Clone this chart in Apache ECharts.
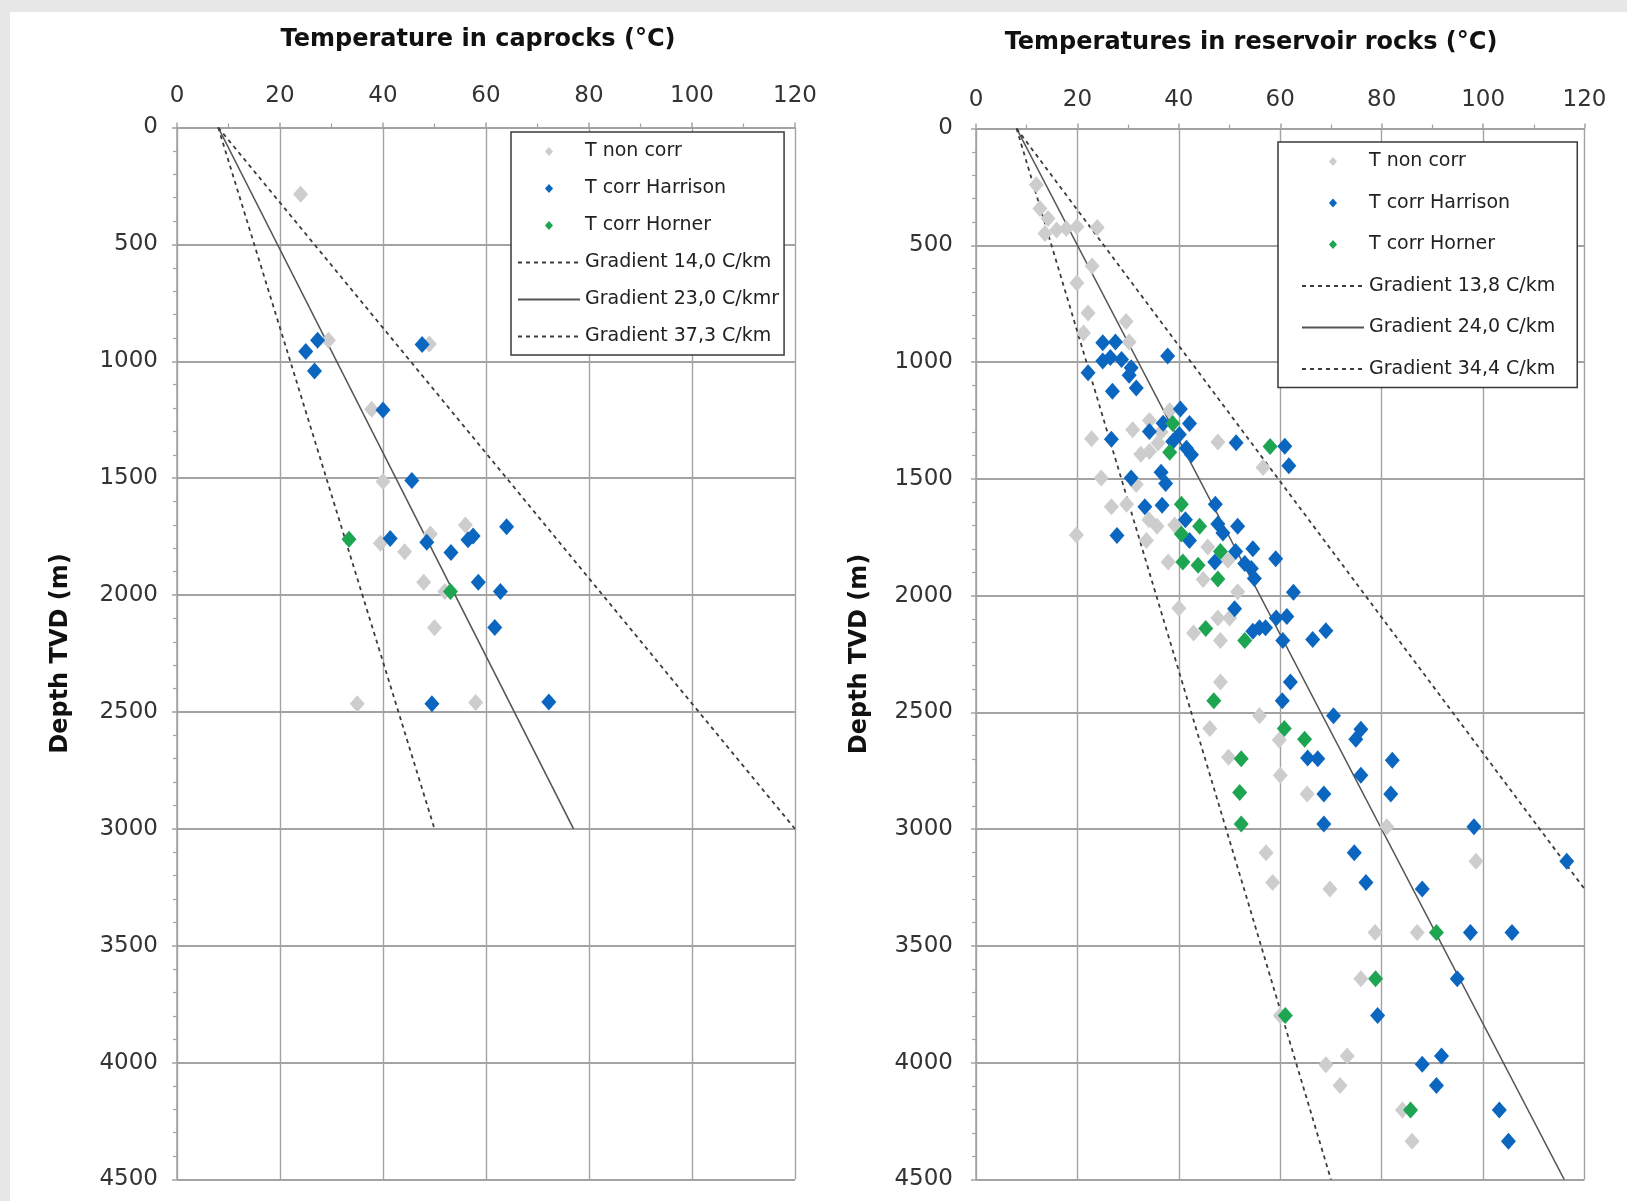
<!DOCTYPE html>
<html>
<head>
<meta charset="utf-8">
<title>Temperatures in caprocks and reservoir rocks</title>
<script src="https://cdn.jsdelivr.net/npm/echarts@6.0.0/dist/echarts.min.js"></script>
<style>
html, body { margin: 0; padding: 0; background: #e7e7e7; }
#panel { position: absolute; left: 10px; top: 12px; width: 1617px; height: 1189px; background: #fff; }
#chart { position: absolute; left: 0; top: 0; width: 1627px; height: 1201px; }
</style>
</head>
<body>
<div id="panel"></div>
<div id="chart"></div>
<script>
// axis ticks
var tempTicks = [0, 20, 40, 60, 80, 100, 120];
var depthTicks = [0, 500, 1000, 1500, 2000, 2500, 3000, 3500, 4000, 4500];

// caprocks: [temperature, depth]
var capNonCorr = [[24, 285], [29.4, 910], [49, 926], [37.8, 1205], [40, 1514], [56, 1700], [49.2, 1739],
	[39.5, 1778], [44.2, 1815], [47.9, 1945], [52, 1985], [50, 2140], [35, 2465], [58, 2460]];
var capHarrison = [[25, 958], [27.3, 910], [26.7, 1042], [47.6, 928], [40, 1208], [45.6, 1510], [41.4, 1758],
	[48.5, 1774], [53.2, 1818], [56.5, 1763], [57.5, 1747], [64, 1708], [58.5, 1945], [62.8, 1985],
	[61.7, 2139], [49.5, 2465], [72.2, 2457]];
var capHorner = [[33.4, 1761], [53.1, 1985]];
var capGrad14 = [[8, 0], [50, 3000]];
var capGrad23 = [[8, 0], [77, 3000]];
var capGrad37 = [[8, 0], [120, 3000]];

// reservoir rocks: [temperature, depth]
var resNonCorr = [[11.9, 241], [12.6, 342], [14.2, 385], [13.6, 450], [15.9, 435], [17.8, 428], [19.9, 421],
	[23.9, 424], [22.9, 589], [19.9, 661], [22.1, 790], [21.2, 876], [29.6, 826], [30.2, 914],
	[22.8, 1328], [30.9, 1290], [34.2, 1250], [47.7, 1342], [38.2, 1208], [35.9, 1347], [34.2, 1383],
	[32.5, 1395], [36.5, 1300], [56.6, 1451], [24.7, 1496], [31.6, 1524], [26.7, 1619], [29.7, 1609],
	[34.1, 1675], [35.7, 1703], [33.6, 1764], [19.8, 1740], [39.2, 1698], [45.7, 1792], [37.9, 1856],
	[49.7, 1849], [44.8, 1931], [51.6, 1983], [40, 2054], [47.7, 2096], [50, 2096], [42.9, 2160],
	[48.2, 2192], [48.2, 2370], [55.9, 2514], [46.1, 2569], [59.8, 2618], [49.8, 2692], [60, 2769],
	[65.3, 2849], [81, 2990], [57.2, 3101], [98.6, 3137], [58.5, 3228], [69.8, 3256], [78.7, 3442],
	[87, 3442], [75.9, 3640], [60, 3798], [69, 4009], [73.2, 3971], [71.8, 4098], [84.1, 4202], [86, 4336]];
var resHarrison = [[25, 917], [27.5, 914], [26.5, 981], [25, 996], [28.7, 989], [30.6, 1024], [30.2, 1057],
	[22.1, 1046], [31.6, 1111], [26.9, 1125], [37.8, 974], [40.3, 1201], [42.1, 1263], [36.9, 1262],
	[34.2, 1297], [26.7, 1330], [51.3, 1345], [60.9, 1360], [40.1, 1310], [38.8, 1340], [41.5, 1369],
	[42.5, 1397], [61.7, 1444], [30.6, 1496], [36.5, 1472], [37.4, 1520], [33.3, 1619], [36.7, 1613],
	[47.2, 1609], [27.8, 1743], [41.3, 1675], [47.7, 1693], [48.7, 1732], [51.6, 1703], [42.1, 1764],
	[51.2, 1811], [54.6, 1799], [59.1, 1842], [47.1, 1856], [53, 1863], [54.3, 1884], [54.9, 1927],
	[62.6, 1986], [51, 2056], [54.6, 2153], [55.9, 2138], [57.1, 2138], [59.2, 2096], [61.3, 2089],
	[60.5, 2192], [66.4, 2188], [69, 2150], [62, 2370], [60.4, 2450], [70.5, 2514], [75.9, 2572],
	[74.9, 2615], [65.4, 2695], [67.4, 2699], [82.1, 2705], [75.9, 2769], [68.6, 2849], [81.8, 2849],
	[68.6, 2978], [98.2, 2990], [74.6, 3101], [116.5, 3137], [76.9, 3228], [88, 3256], [97.5, 3442],
	[105.7, 3442], [94.9, 3640], [79.2, 3798], [88, 4007], [91.8, 3971], [90.8, 4098], [103.2, 4202], [105, 4336]];
var resHorner = [[38.8, 1263], [58, 1362], [38.2, 1386], [40.5, 1609], [44.1, 1703], [40.5, 1736], [48.2, 1811],
	[40.8, 1856], [43.8, 1870], [47.7, 1929], [45.3, 2141], [53, 2192], [46.9, 2450], [60.8, 2569],
	[64.8, 2615], [52.3, 2699], [52, 2843], [52.3, 2978], [90.8, 3442], [78.8, 3640], [61, 3798], [85.7, 4202]];
var resGrad13 = [[8, 0], [70, 4500]];
var resGrad24 = [[8, 0], [116, 4500]];
var resGrad34 = [[8, 0], [120, 3256]];

var capNames = ['T non corr', 'T corr Harrison', 'T corr Horner', 'Gradient 14,0 C/km', 'Gradient 23,0 C/kmr', 'Gradient 37,3 C/km'];
var resNames = ['T non corr', 'T corr Harrison', 'T corr Horner', 'Gradient 13,8 C/km', 'Gradient 24,0 C/km', 'Gradient 34,4 C/km'];

var FONT = 'DejaVu Sans';
var GRIDCOLOR = '#a3a3a3';
var pointColors = ['#cdcdcd', '#0b66c0', '#1ea552'];
// small diamond centred in a wide legend slot, so that it is not stretched
var legendDiamond = 'path://M0,0L0.01,0M62,9L62.01,9M31,-0.5L35.5,4.5L31,9.5L26.5,4.5Z';

var tempChart = {
	xAxisOf : function(idx, labelMargin) {
		return {
			type: 'value', gridIndex: idx, position: 'top',
			min: tempTicks[0], max: tempTicks[tempTicks.length - 1], interval: 20,
			axisLine: {show: true, lineStyle: {color: GRIDCOLOR, width: 1.5}},
			axisTick: {show: true, length: 5, lineStyle: {color: GRIDCOLOR, width: 1.5}},
			minorTick: {show: true, splitNumber: 2, length: 4, lineStyle: {color: GRIDCOLOR, width: 1.2}},
			splitLine: {show: true, lineStyle: {color: GRIDCOLOR, width: 1.4}},
			axisLabel: {fontFamily: FONT, fontSize: 23, color: '#333', margin: labelMargin}
		};
	},
	yAxisOf : function(idx, labelMargin, nameGap) {
		return {
			type: 'value', gridIndex: idx, inverse: true,
			min: depthTicks[0], max: depthTicks[depthTicks.length - 1], interval: 500,
			name: 'Depth TVD (m)', nameLocation: 'middle', nameGap: nameGap, nameRotate: 90,
			nameTextStyle: {fontFamily: FONT, fontSize: 24, fontWeight: 'bold', color: '#111'},
			axisLine: {show: true, lineStyle: {color: GRIDCOLOR, width: 1.5}},
			axisTick: {show: true, length: 5, lineStyle: {color: GRIDCOLOR, width: 1.5}},
			minorTick: {show: true, splitNumber: 5, length: 4, lineStyle: {color: GRIDCOLOR, width: 1.2}},
			splitLine: {show: true, lineStyle: {color: GRIDCOLOR, width: 1.8}},
			axisLabel: {fontFamily: FONT, fontSize: 23, color: '#333', margin: labelMargin,
				formatter: function(v) { return String(v); }}
		};
	},
	scatterOf : function(name, data, idx, colorIdx) {
		return {
			name: name, type: 'scatter', xAxisIndex: idx, yAxisIndex: idx,
			symbol: 'diamond', symbolSize: [15, 17], data: data,
			itemStyle: {color: pointColors[colorIdx], opacity: 1},
			z: 3 + colorIdx
		};
	},
	lineOf : function(name, data, idx, dashed) {
		var c = dashed ? '#3c3c3c' : '#555';
		return {
			name: name, type: 'line', xAxisIndex: idx, yAxisIndex: idx,
			symbol: 'none', data: data, z: 2,
			itemStyle: {color: c, opacity: 0},
			lineStyle: dashed ? {color: c, width: 1.8, type: [4, 4]} : {color: c, width: 1.6, type: 'solid'}
		};
	},
	legendOf : function(names, left, top, gap, pad, textGap) {
		var data = [];
		for (var i = 0; i < names.length; i++) {
			data.push(i < 3 ? {name: names[i], icon: legendDiamond} : {name: names[i]});
		}
		return {
			orient: 'vertical', left: left, top: top,
			data: data, itemWidth: 62, itemHeight: 9, itemGap: gap, itemTextGap: textGap,
			symbolKeepAspect: true,
			padding: pad, backgroundColor: '#fff', borderColor: '#3a3a3a', borderWidth: 1.5,
			selectedMode: false,
			textStyle: {fontFamily: FONT, fontSize: 19, color: '#222', lineHeight: 19}
		};
	},

	showChart : function() {
		var myChart = echarts.init(document.getElementById('chart'), null, {renderer: 'canvas'});
		var option = {
			animation: false,
			backgroundColor: 'transparent',
			title: [
				{text: 'Temperature in caprocks (°C)', left: 473, top: 23, textAlign: 'center',
					textStyle: {fontFamily: FONT, fontSize: 24, fontWeight: 'bold', color: '#111'}},
				{text: 'Temperatures in reservoir rocks (°C)', left: 1246, top: 26, textAlign: 'center',
					textStyle: {fontFamily: FONT, fontSize: 24, fontWeight: 'bold', color: '#111'}}
			],
			grid: [
				{left: 177, top: 127.5, width: 618, height: 1052},
				{left: 976, top: 128.5, width: 608.5, height: 1051}
			],
			xAxis: [tempChart.xAxisOf(0, 20), tempChart.xAxisOf(1, 17)],
			yAxis: [tempChart.yAxisOf(0, 19, 104), tempChart.yAxisOf(1, 23, 104)],
			legend: [
				tempChart.legendOf(capNames, 511, 132, 18, [10, 5, 9, 6], 15),
				tempChart.legendOf(resNames, 1278, 142, 22.5, [10, 22, 9, 23], 13)
			],
			series: [
				tempChart.lineOf(capNames[3], capGrad14, 0, true),
				tempChart.lineOf(capNames[4], capGrad23, 0, false),
				tempChart.lineOf(capNames[5], capGrad37, 0, true),
				tempChart.scatterOf(capNames[0], capNonCorr, 0, 0),
				tempChart.scatterOf(capNames[1], capHarrison, 0, 1),
				tempChart.scatterOf(capNames[2], capHorner, 0, 2),
				tempChart.lineOf(resNames[3], resGrad13, 1, true),
				tempChart.lineOf(resNames[4], resGrad24, 1, false),
				tempChart.lineOf(resNames[5], resGrad34, 1, true),
				tempChart.scatterOf(resNames[0], resNonCorr, 1, 0),
				tempChart.scatterOf(resNames[1], resHarrison, 1, 1),
				tempChart.scatterOf(resNames[2], resHorner, 1, 2)
			]
		};
		// 显示图表
		myChart.setOption(option);
	}
};

tempChart.showChart();
</script>
</body>
</html>
